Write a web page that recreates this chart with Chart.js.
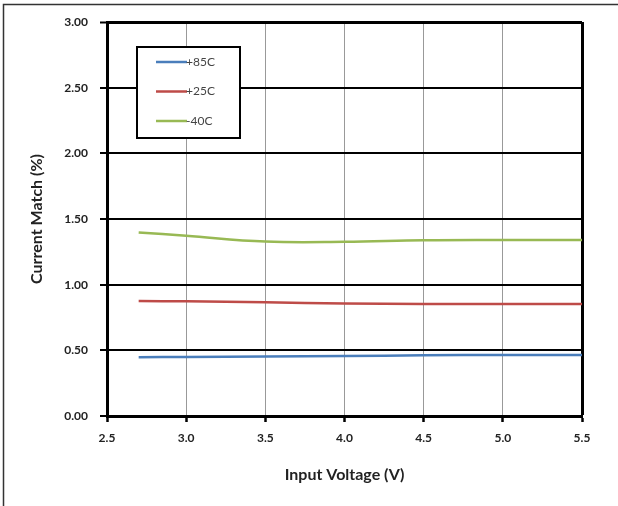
<!DOCTYPE html>
<html>
<head>
<meta charset="utf-8">
<script src="https://cdn.jsdelivr.net/npm/chart.js@4.4.1/dist/chart.umd.min.js"></script>
<style>
  html, body { margin: 0; padding: 0; background: #fff; }
  #wrap { width: 618px; height: 506px; position: relative; }
</style>
</head>
<body>
<div id="wrap"><canvas id="chartCanvas" width="618" height="506"></canvas></div>
<script>
const voltages = [2.7, 3.0, 3.5, 4.0, 4.5, 5.0, 5.5];
const hot85 = [0.448, 0.450, 0.453, 0.457, 0.462, 0.465, 0.465];
const room25 = [0.876, 0.873, 0.866, 0.857, 0.853, 0.852, 0.852];
const cold40 = [1.398, 1.372, 1.328, 1.326, 1.338, 1.340, 1.340];
const seriesLabels = ["+85C", "+25C", "-40C"];
const seriesColors = ["#4a7ebb", "#be4b48", "#98b954"];

const toPoints = arr => arr.map((v, i) => ({ x: voltages[i], y: v }));

// frame around the whole picture (left + top edge only, like the source image)
const framePlugin = {
  id: 'frame',
  beforeDraw(chart) {
    const ctx = chart.ctx;
    ctx.save();
    ctx.fillStyle = '#fff';
    ctx.fillRect(0, 0, chart.width, chart.height);
    ctx.strokeStyle = '#333';
    ctx.lineWidth = 1.5;
    ctx.beginPath();
    ctx.moveTo(3.5, chart.height);
    ctx.lineTo(3.5, 4.5);
    ctx.lineTo(chart.width, 4.5);
    ctx.stroke();
    ctx.restore();
  }
};

// boxed legend inside the plot
const boxLegend = {
  id: 'boxLegend',
  afterDraw(chart) {
    const ctx = chart.ctx;
    ctx.save();
    ctx.fillStyle = '#fff';
    ctx.fillRect(137, 47, 103, 91);
    ctx.strokeStyle = '#000';
    ctx.lineWidth = 2;
    ctx.strokeRect(137, 47, 103, 91);
    ctx.font = '12px Lato';
    ctx.textBaseline = 'middle';
    chart.data.datasets.forEach((ds, i) => {
      const y = 62 + i * 29.5;
      ctx.strokeStyle = ds.borderColor;
      ctx.lineWidth = 2.5;
      ctx.beginPath();
      ctx.moveTo(156, y);
      ctx.lineTo(187, y);
      ctx.stroke();
      ctx.fillStyle = '#444';
      ctx.fillText(ds.label, 186, y);
    });
    ctx.restore();
  }
};

new Chart(document.getElementById("chartCanvas").getContext("2d"), {
  type: 'line',
  data: {
    datasets: [
      { label: seriesLabels[0], data: toPoints(hot85), borderColor: seriesColors[0] },
      { label: seriesLabels[1], data: toPoints(room25), borderColor: seriesColors[1] },
      { label: seriesLabels[2], data: toPoints(cold40), borderColor: seriesColors[2] }
    ]
  },
  options: {
    responsive: false,
    animation: false,
    devicePixelRatio: 1,
    layout: { padding: { top: 22, right: 36, left: 0, bottom: 0 } },
    elements: {
      line: { borderWidth: 2.5, tension: 0.4, fill: false },
      point: { radius: 0 }
    },
    scales: {
      x: {
        type: 'linear',
        min: 2.5,
        max: 5.5,
        afterFit(s) { s.height = 90; },
        ticks: {
          stepSize: 0.5,
          color: '#222',
          padding: 9,
          font: { family: 'Lato', size: 12, weight: 'bold' },
          callback: v => v.toFixed(1)
        },
        grid: {
          color: ctx => ctx.index === 6 ? '#000' : '#999',
          lineWidth: ctx => ctx.index === 6 ? 3 : 1,
          tickColor: '#000',
          tickWidth: 2.5,
          tickLength: 6
        },
        border: { color: '#000', width: 3 },
        title: {
          display: true,
          text: 'Input Voltage (V)',
          color: '#222',
          font: { family: 'Lato', size: 16, weight: 'bold' },
          padding: { top: 0, bottom: 22 }
        }
      },
      y: {
        min: 0,
        max: 3,
        afterFit(s) { s.width = 107; },
        ticks: {
          stepSize: 0.5,
          color: '#222',
          padding: 12,
          font: { family: 'Lato', size: 12, weight: 'bold' },
          callback: v => v.toFixed(2)
        },
        grid: {
          color: '#000',
          lineWidth: ctx => (ctx.index === 6 ? 3 : 2),
          tickColor: '#000',
          tickWidth: 2,
          tickLength: 7
        },
        border: { color: '#000', width: 3 },
        title: {
          display: true,
          text: 'Current Match (%)',
          color: '#222',
          font: { family: 'Lato', size: 16, weight: 'bold' },
          padding: { top: 27, bottom: 0 }
        }
      }
    },
    plugins: {
      legend: { display: false },
      tooltip: { enabled: false }
    }
  },
  plugins: [framePlugin, boxLegend]
});
</script>
</body>
</html>
